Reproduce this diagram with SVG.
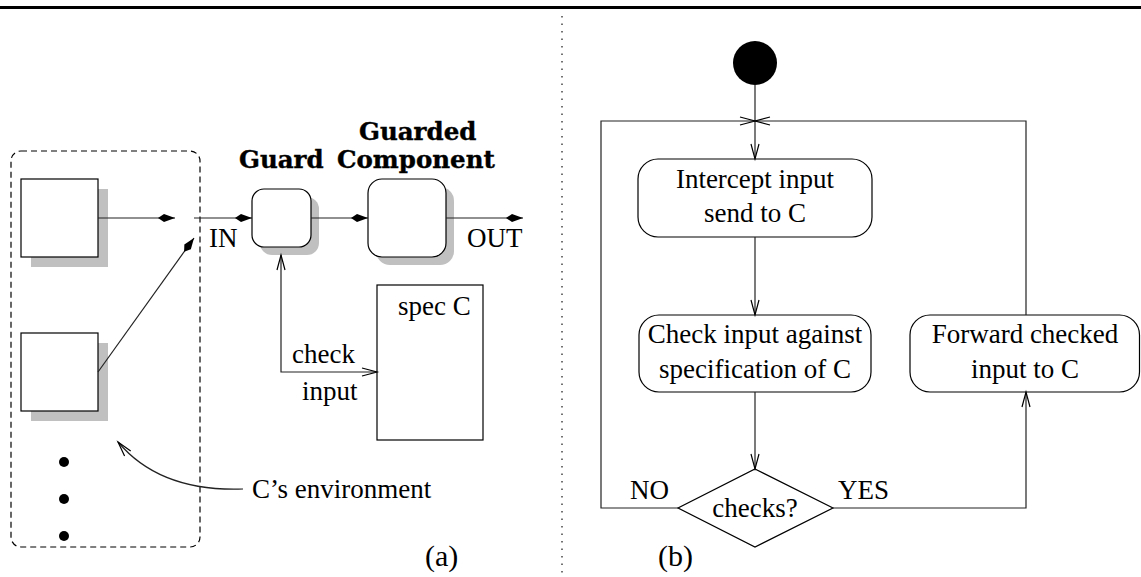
<svg xmlns="http://www.w3.org/2000/svg" width="1141" height="577" viewBox="0 0 1141 577">
<style>
  .t { font-family: "Liberation Serif", "Times New Roman", serif; font-size: 27px; fill: #000; }
  .c { text-anchor: middle; }
  .lbl { font-family: "Liberation Serif", "Times New Roman", serif; font-size: 30px; fill: #000; }
  .b { font-family: "DejaVu Serif", serif; font-weight: bold; font-size: 24.5px; fill: #000; stroke: #000; stroke-width: 0.4; }
  .box { fill: #fff; stroke: #000; stroke-width: 1.2; }
  .sh { fill: #c0c0c0; stroke: none; }
  .ln { fill: none; stroke: #222; stroke-width: 1.2; }
  .kite { marker-end: url(#kite); }
  .open { marker-end: url(#open); }
</style>
<defs>
  <marker id="kite" markerUnits="userSpaceOnUse" markerWidth="18" markerHeight="10" refX="17" refY="5" orient="auto" overflow="visible">
    <path d="M17,5 L6,1 L0,5 L6,9 Z" fill="#000"/>
  </marker>
  <marker id="open" markerUnits="userSpaceOnUse" markerWidth="16" markerHeight="10" refX="15" refY="5" orient="auto-start-reverse" overflow="visible">
    <path d="M0,1 L15,5 L0,9" fill="none" stroke="#000" stroke-width="1.2"/>
  </marker>
</defs>

<rect x="0" y="6" width="1141" height="3" fill="#000"/>
<line x1="562" y1="16" x2="562" y2="577" stroke="#444" stroke-width="1.5" stroke-dasharray="1.5 6"/>

<!-- (a) -->
<g id="environment">
  <rect x="11" y="151" width="189" height="396" rx="10" fill="none" stroke="#000" stroke-width="1.2" stroke-dasharray="6 4"/>
  <text class="t" x="252" y="498">C’s environment</text>
</g>
<g id="env-box-1">
  <rect class="sh" x="31" y="189" width="77" height="78"/>
  <rect class="box" x="21" y="179" width="77" height="78"/>
</g>
<g id="env-box-2">
  <rect class="sh" x="31" y="343" width="77" height="78"/>
  <rect class="box" x="21" y="333" width="77" height="78"/>
</g>
<g id="env-dots">
  <circle cx="64" cy="462" r="5" fill="#000"/>
  <circle cx="64" cy="499" r="5" fill="#000"/>
  <circle cx="64" cy="536" r="5" fill="#000"/>
</g>
<g id="guard">
  <rect class="sh" x="260" y="197" width="59" height="58" rx="12"/>
  <rect class="box" x="252" y="189" width="59" height="58" rx="12"/>
  <text class="b" x="239" y="168">Guard</text>
</g>
<g id="guarded-component">
  <rect class="sh" x="376" y="187" width="78" height="78" rx="14"/>
  <rect class="box" x="368" y="179" width="78" height="78" rx="14"/>
  <text class="b" x="359" y="140">Guarded</text>
  <text class="b" x="337" y="168">Component</text>
</g>
<g id="spec-c">
  <rect class="box" x="377" y="285" width="106" height="155"/>
  <text class="t" x="398" y="315">spec C</text>
</g>
<g id="labels-a">
  <text class="t" x="209" y="247">IN</text>
  <text class="t" x="467" y="247">OUT</text>
  <text class="t" x="292" y="363">check</text>
  <text class="t" x="302" y="400">input</text>
  <text class="lbl" x="425" y="566">(a)</text>
</g>

<g id="connectors-a">
  <path class="ln kite" d="M98,218 H175"/>
  <path class="ln kite" d="M194,218 H252"/>
  <path class="ln kite" d="M98,372 L194,238"/>
  <path class="ln kite" d="M311,218 H368"/>
  <path class="ln kite" d="M446,218 H523"/>
  <path class="ln" d="M281,255 V372 H377" marker-start="url(#open)" marker-end="url(#open)"/>
  <path class="ln open" d="M243,489 Q160,492 118,442"/>
</g>

<!-- (b) -->
<g id="start">
  <circle cx="755" cy="63" r="22" fill="#000"/>
</g>
<g id="intercept">
  <rect class="box" x="638" y="159" width="234" height="78" rx="20"/>
  <text class="t c" x="755" y="188">Intercept input</text>
  <text class="t c" x="755" y="222">send to C</text>
</g>
<g id="check">
  <rect class="box" x="639" y="315" width="232" height="77" rx="20"/>
  <text class="t c" x="755" y="343">Check input against</text>
  <text class="t c" x="755" y="378">specification of C</text>
</g>
<g id="forward">
  <rect class="box" x="910" y="315" width="229.5" height="77" rx="20"/>
  <text class="t c" x="1025" y="343">Forward checked</text>
  <text class="t c" x="1025" y="378">input to C</text>
</g>
<g id="decision">
  <polygon class="box" points="755,469 833,508 755,547 678,508"/>
  <text class="t c" x="755" y="517">checks?</text>
  <text class="t" x="630" y="499">NO</text>
  <text class="t" x="838" y="499">YES</text>
</g>
<text class="lbl" x="658" y="566">(b)</text>

<g id="connectors-b">
  <path class="ln open" d="M755,85 V159"/>
  <path class="ln open" d="M678,508 H601 V121 H755"/>
  <path class="ln open" d="M1026,315 V121 H755"/>
  <path class="ln open" d="M755,237 V315"/>
  <path class="ln open" d="M755,392 V469"/>
  <path class="ln open" d="M833,508 H1026 V392"/>
</g>
</svg>
